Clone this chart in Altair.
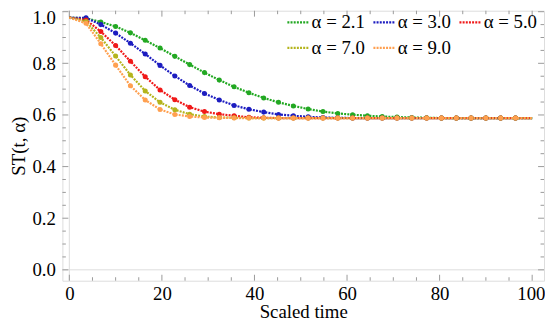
import altair as alt
import pandas as pd

# ---- data ----
t_vals = [0.0, 3.6, 6.8, 10.0, 13.2, 16.4, 19.6, 22.8, 26.0, 29.2, 32.4, 35.6, 38.8,
          42.0, 45.2, 48.4, 51.6, 54.8, 58.0, 61.2, 64.4, 67.6, 70.8, 74.0, 77.2,
          80.4, 83.6, 86.8, 90.0, 93.2, 96.4, 100.0]

st_21 = [0.977, 0.975, 0.960, 0.943, 0.918, 0.889, 0.859, 0.827, 0.795, 0.764, 0.735,
         0.709, 0.686, 0.666, 0.649, 0.635, 0.623, 0.613, 0.606, 0.601, 0.597, 0.594,
         0.592, 0.590, 0.589, 0.588, 0.588, 0.588, 0.588, 0.588, 0.588, 0.588]
st_30 = [0.977, 0.976, 0.950, 0.917, 0.878, 0.836, 0.792, 0.751, 0.714, 0.683, 0.658,
         0.637, 0.622, 0.611, 0.602, 0.597, 0.593, 0.590, 0.589, 0.588, 0.588, 0.588,
         0.588, 0.588, 0.588, 0.588, 0.588, 0.588, 0.588, 0.588, 0.588, 0.588]
st_50 = [0.977, 0.968, 0.923, 0.869, 0.808, 0.748, 0.697, 0.659, 0.630, 0.613, 0.603,
         0.597, 0.591, 0.589, 0.588, 0.588, 0.588, 0.588, 0.588, 0.588, 0.588, 0.588,
         0.588, 0.588, 0.588, 0.588, 0.588, 0.588, 0.588, 0.588, 0.588, 0.588]
st_70 = [0.977, 0.962, 0.900, 0.828, 0.755, 0.693, 0.649, 0.620, 0.603, 0.594, 0.590,
         0.589, 0.588, 0.588, 0.588, 0.588, 0.588, 0.588, 0.588, 0.588, 0.588, 0.588,
         0.588, 0.588, 0.588, 0.588, 0.588, 0.588, 0.588, 0.588, 0.588, 0.588]
st_90 = [0.977, 0.955, 0.876, 0.793, 0.713, 0.658, 0.621, 0.602, 0.594, 0.590, 0.589,
         0.588, 0.588, 0.588, 0.588, 0.588, 0.588, 0.588, 0.588, 0.588, 0.588, 0.588,
         0.588, 0.588, 0.588, 0.588, 0.588, 0.588, 0.588, 0.588, 0.588, 0.588]

series_labels = ["α = 2.1", "α = 3.0", "α = 5.0", "α = 7.0", "α = 9.0"]
series_colors = ["#22a822", "#1c1cc0", "#f01818", "#b4b41c", "#ffa050"]

x_major = [0, 20, 40, 60, 80, 100]
x_minor = [5, 10, 15, 25, 30, 35, 45, 50, 55, 65, 70, 75, 85, 90, 95]
y_major = [0.0, 0.2, 0.4, 0.6, 0.8, 1.0]
y_minor = [0.05, 0.1, 0.15, 0.25, 0.3, 0.35, 0.45, 0.5, 0.55, 0.65, 0.7, 0.75,
           0.85, 0.9, 0.95]

# ---- build tables ----
rows = []
for lab, vals in zip(series_labels, [st_21, st_30, st_50, st_70, st_90]):
    n = len(vals)
    for i, (t, v) in enumerate(zip(t_vals, vals)):
        rows.append({"t": t, "v": v, "series": lab, "marker": 0 < i < n - 1})
df = pd.DataFrame(rows)

W, H = 487, 273
FONT = "Liberation Serif"
FRAME = "#9a9a9a"

xs = alt.Scale(domain=[-1.5, 102.56], nice=False, zero=False)
ys = alt.Scale(domain=[-0.0421, 1.0038], nice=False, zero=False)
cs = alt.Scale(domain=series_labels, range=series_colors)

x_axis = alt.Axis(
    values=x_major, ticks=False, domain=False, grid=False, labelFont=FONT,
    labelFontSize=19, labelColor="black", labelPadding=4, labelFlush=False,
    labelAlign={"condition": {"test": "datum.value >= 100", "value": "right"},
                "value": "center"},
    labelOffset={"condition": {"test": "datum.value >= 100", "value": 13},
                 "value": 0},
    title="Scaled time", titleFont=FONT, titleFontSize=19,
    titleFontWeight="normal", titleColor="black",
    titleBaseline="alphabetic", titleY=37)
y_axis = alt.Axis(
    values=y_major, format=".1f", ticks=False, domain=False, grid=False,
    labelFont=FONT, labelFontSize=19, labelColor="black", labelPadding=7,
    labelFlush=False,
    labelOffset={"condition": {"test": "datum.value >= 1", "value": 6},
                 "value": 0},
    title="ST(t, α)", titleFont=FONT, titleFontSize=19,
    titleFontWeight="normal", titleColor="black", titlePadding=4)

X = alt.X("t:Q", scale=xs, axis=x_axis)
Y = alt.Y("v:Q", scale=ys, axis=y_axis)

base = alt.Chart(df)

lines = base.mark_line(strokeDash=[2, 1.2], strokeWidth=2.2).encode(
    x=X, y=Y,
    color=alt.Color("series:N", scale=cs, legend=alt.Legend(
        title=None, orient="none", legendX=226, legendY=-1, columns=3,
        direction="horizontal", symbolType="stroke", symbolSize=484,
        symbolStrokeWidth=2.2, symbolDash=[2, 1.2], labelFont=FONT,
        labelFontSize=19, labelColor="black", labelOffset=1, columnPadding=4,
        rowPadding=3, padding=0, labelLimit=200)),
    order="t:Q",
)

points = base.mark_circle(size=26, opacity=1).encode(
    x=X, y=Y,
    color=alt.Color("series:N", scale=cs, legend=None),
).transform_filter("datum.marker")

# light Mathematica-style axes at t = 0 and v = 0
ax0 = alt.Chart(pd.DataFrame({"t": [0.0]})).mark_rule(color="#dddddd", strokeWidth=1).encode(
    x=X, y=alt.value(0), y2=alt.value(H))
ay0 = alt.Chart(pd.DataFrame({"v": [0.0]})).mark_rule(color="#dddddd", strokeWidth=1).encode(
    y=Y, x=alt.value(0), x2=alt.value(W))


def xticks(vals, ln):
    d = alt.Chart(pd.DataFrame({"t": vals}))
    bot = d.mark_rule(color=FRAME, strokeWidth=1).encode(x=X, y=alt.value(H), y2=alt.value(H - ln))
    top = d.mark_rule(color=FRAME, strokeWidth=1).encode(x=X, y=alt.value(0), y2=alt.value(ln))
    return [bot, top]


def yticks(vals, ln):
    d = alt.Chart(pd.DataFrame({"v": vals}))
    left = d.mark_rule(color=FRAME, strokeWidth=1).encode(y=Y, x=alt.value(0), x2=alt.value(ln))
    right = d.mark_rule(color=FRAME, strokeWidth=1).encode(y=Y, x=alt.value(W), x2=alt.value(W - ln))
    return [left, right]


tick_layers = xticks(x_major, 6) + xticks(x_minor, 3.5) + yticks(y_major, 6) + yticks(y_minor, 3.5)

chart = alt.layer(ax0, ay0, *tick_layers, lines, points).resolve_scale(
    color="independent"
).properties(
    width=W, height=H,
    autosize=alt.AutoSizeParams(type="none"),
    padding={"left": 55, "top": 1, "right": 1, "bottom": 39},
).configure_view(
    stroke=FRAME, strokeWidth=1
).configure(background="white")

chart.save("out.html", embed_options={"renderer": "svg", "actions": False})
